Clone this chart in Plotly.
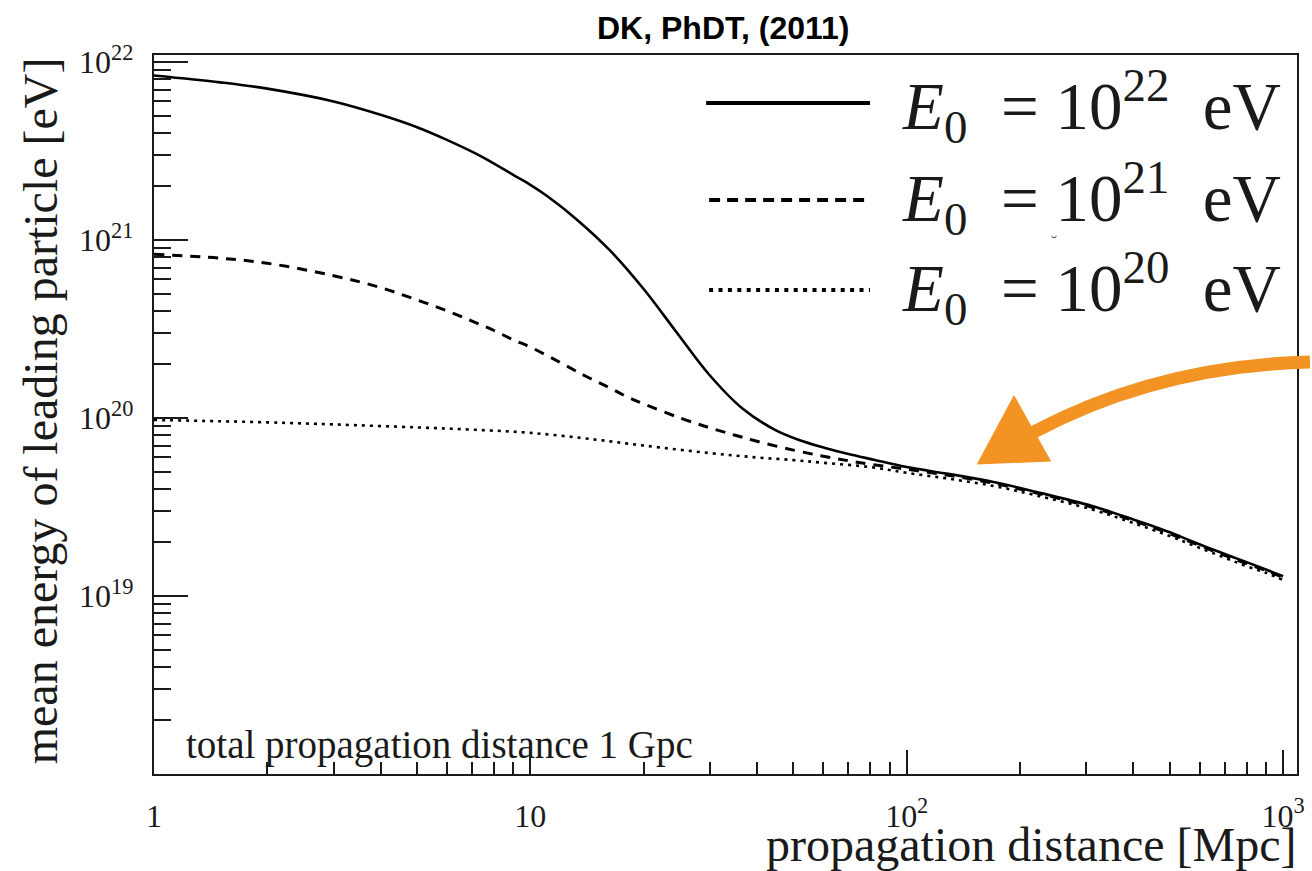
import plotly.graph_objects as go

# ---------------- data ----------------
dist_1e22 = [1, 1.5, 2, 3, 4, 5, 6, 7.4, 9.07, 10, 11.1, 13.3, 16.3, 20, 24.4, 29.8, 36.6, 44.8, 52,
             60.7, 70, 82.3, 100, 130, 170, 220, 311, 400, 500, 572, 700, 800, 900, 1000]
energy_1e22 = [8.4e21, 7.68e21, 7.08e21, 6.0e21, 5.05e21, 4.3e21, 3.65e21, 2.95e21, 2.3e21, 2.04e21,
               1.76e21, 1.3e21, 8.7e20, 5.3e20, 3.05e20, 1.76e20, 1.13e20, 8.55e19, 7.5e19,
               6.78e19, 6.27e19, 5.81e19, 5.3e19, 4.84e19, 4.37e19, 3.85e19, 3.2e19, 2.69e19,
               2.28e19, 2.03e19, 1.72e19, 1.55e19, 1.41e19, 1.29e19]

dist_1e21 = [1, 1.5, 2, 3, 4, 5, 6, 7, 8, 9, 10, 12, 14, 16, 18, 20, 25, 30, 35, 40, 50, 60, 70, 80,
             100, 130, 170, 220, 311, 400, 500, 572, 700, 800, 900, 1000]
energy_1e21 = [8.3e20, 7.9e20, 7.4e20, 6.3e20, 5.4e20, 4.6e20, 4.0e20, 3.5e20, 3.1e20, 2.75e20,
               2.5e20, 2.05e20, 1.72e20, 1.5e20, 1.32e20, 1.2e20, 1.0e20, 8.8e19, 8.0e19, 7.4e19,
               6.6e19, 6.1e19, 5.75e19, 5.5e19, 5.15e19, 4.75e19, 4.3e19, 3.8e19, 3.15e19, 2.65e19,
               2.24e19, 2.0e19, 1.69e19, 1.52e19, 1.39e19, 1.27e19]

dist_1e20 = [1, 2, 3, 5, 7, 10, 15, 20, 30, 40, 50, 60, 80, 100, 130, 170, 220, 311, 400, 500, 572,
             700, 800, 900, 1000]
energy_1e20 = [9.75e19, 9.45e19, 9.2e19, 8.85e19, 8.6e19, 8.25e19, 7.55e19, 7.0e19, 6.35e19, 6.0e19,
               5.8e19, 5.6e19, 5.3e19, 4.92e19, 4.55e19, 4.15e19, 3.68e19, 3.06e19, 2.57e19, 2.17e19,
               1.94e19, 1.64e19, 1.47e19, 1.35e19, 1.23e19]

x_tickvals = [1, 10, 100, 1000]
x_ticktext = ["1", "10", "10<sup>2</sup>", "10<sup>3</sup>"]
y_tickvals = [1e19, 1e20, 1e21, 1e22]
y_ticktext = ["10<sup>19</sup>", "10<sup>20</sup>", "10<sup>21</sup>", "10<sup>22</sup>"]
legend_labels = ["<i>E</i><sub>0</sub> &nbsp;= 10<sup>22</sup> &nbsp;eV",
                 "<i>E</i><sub>0</sub> &nbsp;= 10<sup>21</sup> &nbsp;eV",
                 "<i>E</i><sub>0</sub> &nbsp;= 10<sup>20</sup> &nbsp;eV"]

# ---------------- geometry helpers (pixel -> paper) ----------------
W, H = 1312, 871
L, R, T, B = 154, 1305, 55, 774


def px(xp):
    return (xp - L) / (R - L)


def py(yp):
    return (B - yp) / (B - T)


SERIF = "Liberation Serif, Times New Roman, serif"
INK = "#1a1a1a"

fig = go.Figure()
fig.add_trace(go.Scatter(x=dist_1e22, y=energy_1e22, mode="lines", line=dict(color="black", width=2.6),
                         line_shape="spline", showlegend=False))
fig.add_trace(go.Scatter(x=dist_1e21, y=energy_1e21, mode="lines",
                         line=dict(color="black", width=3, dash="10px,8px"),
                         line_shape="spline", showlegend=False))
fig.add_trace(go.Scatter(x=dist_1e20, y=energy_1e20, mode="lines",
                         line=dict(color="black", width=2.6, dash="3px,5px"),
                         line_shape="spline", showlegend=False))

minor_x = [m * 10 ** e for e in range(0, 3) for m in range(2, 10)]
minor_y = [m * 10.0 ** e for e in range(18, 22) for m in range(2, 10)]

fig.update_layout(
    width=W, height=H,
    margin=dict(l=L, r=W - R, t=T, b=H - B),
    paper_bgcolor="white", plot_bgcolor="white",
    showlegend=False,
    xaxis=dict(type="log", range=[0, 3.037], tickmode="array", tickvals=x_tickvals, ticktext=x_ticktext,
               ticks="inside", ticklen=24, tickwidth=1.6, tickcolor=INK,
               showline=True, linewidth=2.2, linecolor=INK, mirror=True, showgrid=False, zeroline=False,
               tickfont=dict(family=SERIF, size=32, color=INK), ticklabelstandoff=12,
               minor=dict(tickvals=minor_x, ticks="inside", ticklen=12, tickwidth=1.6, tickcolor=INK,
                          showgrid=False)),
    yaxis=dict(type="log", range=[18, 22.039], tickmode="array", tickvals=y_tickvals, ticktext=y_ticktext,
               ticks="inside", ticklen=34, tickwidth=1.6, tickcolor=INK,
               showline=True, linewidth=2.2, linecolor=INK, mirror=True, showgrid=False, zeroline=False,
               tickfont=dict(family=SERIF, size=32, color=INK), ticklabelstandoff=12,
               minor=dict(tickvals=minor_y, ticks="inside", ticklen=17, tickwidth=1.6, tickcolor=INK,
                          showgrid=False)),
)

annotations = [
    dict(text="<b>DK, PhDT, (2011)</b>", x=px(727), y=py(28), xanchor="center", yanchor="middle",
         font=dict(family="Liberation Sans, Arial, sans-serif", size=32, color="black")),
    dict(text="mean energy of leading particle [eV]", x=px(40), y=1.0, xanchor="center", yanchor="top",
         textangle=-90, font=dict(family=SERIF, size=48, color=INK)),
    dict(text="propagation distance [Mpc]", x=px(1306), y=py(844), xanchor="right", yanchor="middle",
         font=dict(family=SERIF, size=48, color=INK)),
    dict(text="total propagation distance 1 Gpc", x=px(184), y=py(745), xanchor="left", yanchor="middle",
         font=dict(family=SERIF, size=39, color=INK)),
    dict(text="\u02d8", x=px(1060), y=py(243), xanchor="center", yanchor="middle",
         font=dict(family=SERIF, size=18, color="#555")),
]
legend_y = [106, 198, 288]
for lab, ly in zip(legend_labels, legend_y):
    annotations.append(dict(text=lab, x=px(905), y=py(ly), xanchor="left", yanchor="middle",
                            font=dict(family=SERIF, size=67, color=INK)))
for a in annotations:
    a.update(xref="paper", yref="paper", showarrow=False)
fig.update_layout(annotations=annotations)

# legend sample lines
shapes = []
for ly, dash, xs in [(103, "solid", 710), (200, "11px,7px", 713), (290, "4px,5.4px", 713)]:
    shapes.append(dict(type="line", xref="paper", yref="paper", x0=px(xs), x1=px(875), y0=py(ly), y1=py(ly),
                       line=dict(color="black", width=4, dash=dash)))

# orange hand-drawn arrow
ORANGE = "#F39323"


def pth(points, close=False, curve=False):
    if curve:
        (a, b), (c, d), (e, f), (g, h) = points
        return f"M {px(a)},{py(b)} C {px(c)},{py(d)} {px(e)},{py(f)} {px(g)},{py(h)}"
    s = "M " + " L ".join(f"{px(a)},{py(b)}" for a, b in points)
    return s + (" Z" if close else "")


shapes.append(dict(type="path", xref="paper", yref="paper",
                   path=pth([(1318, 362), (1200, 365), (1110, 395), (1040, 432)], curve=True),
                   line=dict(color=ORANGE, width=13)))
shapes.append(dict(type="path", xref="paper", yref="paper",
                   path=pth([(1020, 398), (1055, 460), (985, 463)], close=True),
                   fillcolor=ORANGE, line=dict(color=ORANGE, width=3)))
fig.update_layout(shapes=shapes)

fig.write_html("out.html")
